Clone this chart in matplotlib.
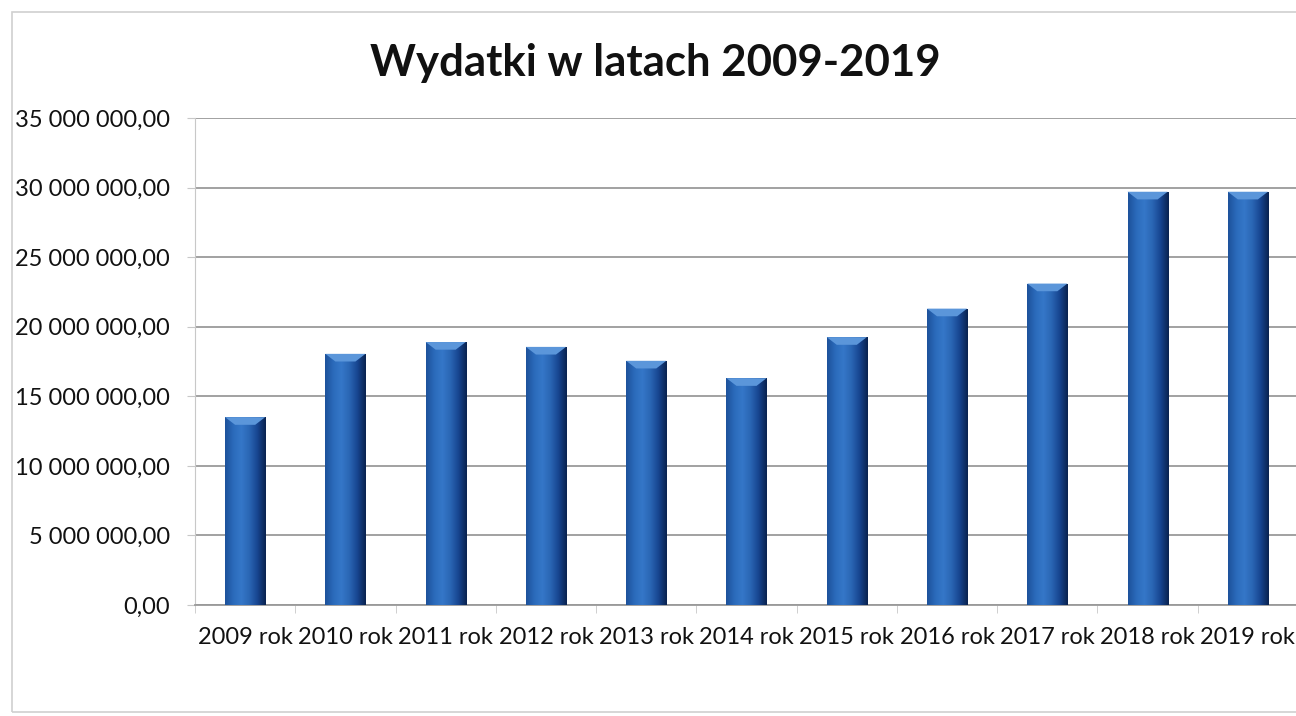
import numpy as np
import matplotlib.pyplot as plt
from matplotlib.colors import LinearSegmentedColormap
from matplotlib.patches import Rectangle
from matplotlib.ticker import FuncFormatter, FixedLocator

years = ["2009 rok", "2010 rok", "2011 rok", "2012 rok", "2013 rok", "2014 rok",
         "2015 rok", "2016 rok", "2017 rok", "2018 rok", "2019 rok"]
wydatki = [13500000, 18050000, 18900000, 18550000, 17550000, 16300000,
           19250000, 21300000, 23100000, 29700000, 29700000]
title = "Wydatki w latach 2009-2019"

plt.rcParams['font.family'] = ['Lato', 'DejaVu Sans']

fig = plt.figure(figsize=(12.96, 7.16), dpi=100)
ax = fig.add_axes([195 / 1296, 1 - 605 / 716, 1103 / 1296, (605 - 118) / 716])

x = np.arange(len(years))
width = 0.4
bars = ax.bar(x, wydatki, width=width, color='#1f5aa6', edgecolor='none', zorder=2)

# fake the 3d/gradient look of the excel bars
cmap = LinearSegmentedColormap.from_list(
    'bar', ['#1d529b', '#2b6bbb', '#3577c8', '#2a66b4', '#174590', '#0a2350'])
grad = np.linspace(0, 1, 64).reshape(1, -1)
for b in bars:
    x0, w, h = b.get_x(), b.get_width(), b.get_height()
    im = ax.imshow(grad, cmap=cmap, aspect='auto', extent=(x0, x0 + w, 0, h),
                   zorder=3, interpolation='bicubic')
    im.set_clip_path(b)
    # bevel on top
    bev = 550000
    ax.fill([x0, x0 + w, x0 + w * 0.75, x0 + w * 0.25],
            [h, h, h - bev, h - bev], color='#5b96da', zorder=4, lw=0)

ax.set_xlim(-0.5, len(years) - 0.5)
ax.set_ylim(0, 35000000)
ax.yaxis.set_major_locator(FixedLocator(np.arange(0, 35000001, 5000000)))
ax.yaxis.set_major_formatter(FuncFormatter(
    lambda v, p: '{:,.2f}'.format(v).replace(',', ' ').replace('.', ',')))
ax.set_xticks(x)
ax.set_xticklabels(years)
ax.set_xticks(np.arange(-0.5, len(years), 1), minor=True)

ax.grid(axis='y', color='#9a9a9a', lw=1.3, zorder=0)
for s in ['top', 'right']:
    ax.spines[s].set_visible(False)
ax.spines['left'].set_color('#c8c8c8')
ax.spines['bottom'].set_color('#9a9a9a')
ax.spines['bottom'].set_linewidth(1.3)

ax.tick_params(axis='y', length=6, color='#c8c8c8', labelsize=17, pad=12, labelcolor='#111111')
ax.tick_params(axis='x', which='major', length=0, labelsize=17, pad=16, labelcolor='#111111')
ax.tick_params(axis='x', which='minor', length=6, color='#c8c8c8')

fig.text(655 / 1296, 1 - 63 / 716, title, ha='center', va='center',
         fontsize=31.5, fontweight='bold', color='#111111')

# chart frame
fig.patches.append(Rectangle((12 / 1296, 4 / 716), 1300 / 1296, 700 / 716,
                             transform=fig.transFigure, fill=False,
                             edgecolor='#d0d0d0', lw=1.2))

fig.savefig('out.png', dpi=100)
